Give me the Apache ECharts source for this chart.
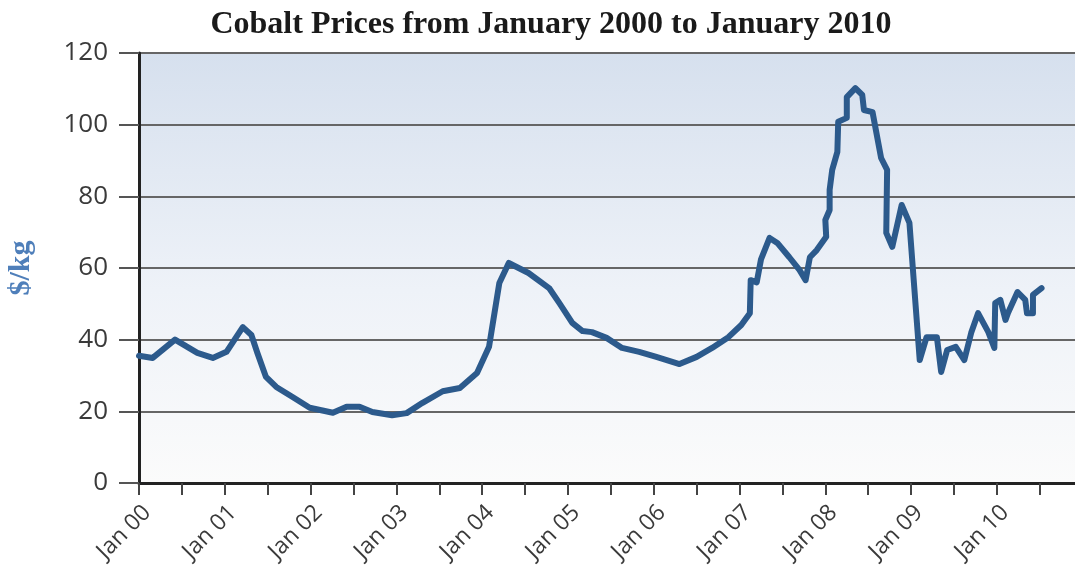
<!DOCTYPE html>
<html>
<head>
<meta charset="utf-8">
<script src="https://cdn.jsdelivr.net/npm/echarts@6/dist/echarts.min.js"></script>
<style>
html,body{margin:0;padding:0;background:#ffffff;}
#chart{width:1075px;height:571px;}
</style>
</head>
<body>
<div id="chart"></div>
<script>
// Dates as decimal years, prices in $/kg
var dates = [
  2000.00, 2000.16, 2000.42, 2000.68, 2000.86, 2001.02, 2001.21, 2001.31, 2001.38,
  2001.48, 2001.60, 2001.79, 2001.99, 2002.26, 2002.42, 2002.57, 2002.72, 2002.95,
  2003.12, 2003.30, 2003.54, 2003.74, 2003.94, 2004.08, 2004.20, 2004.31, 2004.54,
  2004.78, 2004.90, 2005.05, 2005.17, 2005.28, 2005.45, 2005.63, 2005.83, 2006.03,
  2006.30, 2006.50, 2006.68, 2006.87, 2007.02, 2007.12, 2007.13, 2007.20, 2007.25,
  2007.35, 2007.44, 2007.58, 2007.70, 2007.77, 2007.82, 2007.90, 2008.01, 2008.00,
  2008.05, 2008.05, 2008.08, 2008.14, 2008.15, 2008.25, 2008.25, 2008.35, 2008.43,
  2008.45, 2008.55, 2008.65, 2008.72, 2008.71, 2008.78, 2008.89, 2008.98, 2009.10,
  2009.18, 2009.30, 2009.35, 2009.42, 2009.52, 2009.62, 2009.70, 2009.78, 2009.90,
  2009.97, 2009.98, 2010.04, 2010.10, 2010.13, 2010.24, 2010.33, 2010.35, 2010.42,
  2010.42, 2010.52
];
var prices = [
  35.5, 34.9, 40.0, 36.3, 34.9, 36.6, 43.5, 41.3, 36.3,
  29.6, 26.8, 24.0, 21.0, 19.6, 21.3, 21.3, 19.8, 18.9,
  19.5, 22.3, 25.6, 26.5, 30.7, 38.0, 55.8, 61.4, 58.6,
  54.4, 50.2, 44.7, 42.4, 42.1, 40.5, 37.7, 36.6, 35.2,
  33.2, 35.2, 37.7, 40.7, 44.1, 47.4, 56.6, 56.0, 62.4,
  68.4, 67.0, 63.0, 59.4, 56.6, 63.0, 65.0, 68.7, 73.4,
  76.2, 81.8, 87.4, 92.4, 100.8, 101.9, 107.7, 110.2, 108.3,
  104.1, 103.5, 90.7, 87.4, 69.8, 65.9, 77.6, 72.6, 34.3,
  40.7, 40.7, 31.0, 37.1, 38.0, 34.3, 41.9, 47.4, 42.1,
  37.7, 50.2, 51.1, 45.5, 47.5, 53.3, 51.1, 47.4, 47.4,
  52.5, 54.4
];
var yearLabels = ['Jan 00','Jan 01','Jan 02','Jan 03','Jan 04','Jan 05','Jan 06','Jan 07','Jan 08','Jan 09','Jan 10'];
var firstYear = 2000;
var titleText = 'Cobalt Prices from January 2000 to January 2010';
var yName = '$/kg';

var seriesData = dates.map(function(d, i){ return [d, prices[i]]; });

var chart = echarts.init(document.getElementById('chart'), null, {renderer:'canvas'});
chart.setOption({
  animation: false,
  backgroundColor: '#ffffff',
  title: {
    text: titleText,
    left: 546, textAlign: 'center', top: 4,
    textStyle: {fontFamily: 'Liberation Serif', fontWeight: 'bold', fontSize: 32, color: '#1a1a1a'}
  },
  grid: {
    left: 139, right: 0, top: 53, bottom: 88, show: true,
    outerBoundsMode: 'none', containLabel: false,
    borderWidth: 0,
    backgroundColor: {
      type: 'linear', x: 0, y: 0, x2: 0, y2: 1,
      colorStops: [{offset: 0, color: '#d6e0ee'}, {offset: 0.55, color: '#eef2f8'}, {offset: 1, color: '#fbfbfb'}]
    }
  },
  xAxis: {
    type: 'value', min: 2000, max: 2010.91, interval: 0.5,
    axisLine: {show: true, onZero: false, lineStyle: {color: '#222', width: 3}},
    axisTick: {show: true, length: 12, lineStyle: {color: '#444', width: 2}},
    splitLine: {show: false},
    axisLabel: {
      rotate: 45, margin: 18, verticalAlign: 'top', fontFamily: 'Open Sans', fontSize: 23, color: '#3a3a3a',
      showMaxLabel: false, hideOverlap: false,
      formatter: function(v){
        var k = Math.round((v - firstYear) * 2);
        if (k % 2 !== 0) return '';
        return yearLabels[k / 2] || '';
      }
    }
  },
  yAxis: {
    type: 'value', min: 0, max: 120, interval: 20,
    name: yName, nameLocation: 'middle', nameGap: 103, nameRotate: 90,
    nameTextStyle: {fontFamily: 'Liberation Serif', fontWeight: 'bold', fontSize: 30, color: '#4f7fba'},
    axisLine: {show: true, lineStyle: {color: '#222', width: 3}},
    axisTick: {show: true, length: 20, lineStyle: {color: '#555', width: 2}},
    splitLine: {show: true, lineStyle: {color: '#666', width: 2}},
    axisLabel: {margin: 31, fontFamily: 'Open Sans', fontSize: 26, color: '#3a3a3a'}
  },
  series: [{
    type: 'line', data: seriesData, showSymbol: false, symbol: 'none',
    lineStyle: {color: '#2c5a8c', width: 6, join: 'round', cap: 'round'},
    z: 5
  }]
});
</script>
</body>
</html>
